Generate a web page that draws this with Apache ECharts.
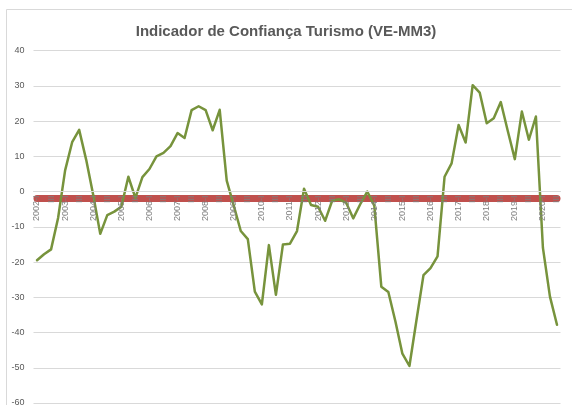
<!DOCTYPE html>
<html>
<head>
<meta charset="utf-8">
<title>Indicador de Confiança Turismo</title>
<script src="https://cdn.jsdelivr.net/npm/echarts@6/dist/echarts.min.js"></script>
<style>
	html, body { margin: 0; padding: 0; background: #fff; }
	#chart_turismo { width: 572px; height: 405px; }
</style>
</head>
<body>
<div id="chart_turismo"></div>
<script>
// anos e trimestres do eixo horizontal
var anos = ['2002', '2003', '2004', '2005', '2006', '2007', '2008', '2009', '2010',
	'2011', '2012', '2013', '2014', '2015', '2016', '2017', '2018', '2019', '2020'];
var trimestres = ['I', 'II', 'III', 'IV'];

// indicador (VE-MM3), 2002-I ate 2020-III
var indicador = [
	-19.5, -17.8, -16.4, -7.5,
	6.0, 14.0, 17.5, 9.0,
	-1.0, -12.0, -6.7, -5.7,
	-4.3, 4.2, -1.8, 4.1,
	6.4, 10.0, 11.0, 12.9,
	16.6, 15.2, 23.1, 24.2,
	23.1, 17.4, 23.2, 3.1,
	-4.0, -11.2, -13.5, -28.4,
	-32.0, -15.2, -29.3, -15.0,
	-14.8, -11.2, 0.8, -3.8,
	-4.3, -8.3, -2.6, -2.2,
	-3.2, -7.6, -3.6, 0.0,
	-4.0, -27.0, -28.5, -36.8,
	-46.0, -49.5, -36.5, -23.7,
	-21.7, -18.4, 4.2, 8.0,
	18.9, 13.9, 30.2, 28.1,
	19.4, 20.8, 25.4, 17.2,
	9.2, 22.7, 14.7, 21.3,
	-16.0, -29.8, -37.8
];

// linha da media (vermelha)
var media = -1.9;

// escala do eixo vertical
var yMin = -60;
var yMax = 40;
var yStep = 10;

var categorias = [];
for (var a = 0; a < anos.length; a++) {
	for (var t = 0; t < trimestres.length; t++) {
		if (categorias.length >= indicador.length) break;
		categorias.push(t == 0 ? anos[a] + '-' + trimestres[t] : trimestres[t]);
	}
}

// area do grafico
var gridTop = 50.6;
var gridBottom = 2;
var gridHeight = 405 - gridTop - gridBottom;
// eixo das categorias fica no zero
var zeroOffset = -gridHeight * (0 - yMin) / (yMax - yMin);

var chart = echarts.init(document.getElementById('chart_turismo'), null, { renderer: 'canvas' });

chart.setOption({
	animation : false,
	backgroundColor : '#ffffff',
	textStyle : { fontFamily : 'Liberation Sans, Arial, sans-serif' },
	graphic : [{
		type : 'rect',
		z : -10,
		shape : { x : 6.5, y : 9.5, width : 620, height : 500 },
		style : { fill : 'none', stroke : '#d9d9d9', lineWidth : 1 }
	}],
	title : {
		text : 'Indicador de Confiança Turismo (VE-MM3)',
		left : 'center',
		top : 19,
		textStyle : {
			fontSize : 15,
			fontWeight : 'bold',
			color : '#595959',
			fontFamily : 'Liberation Sans, Arial, sans-serif'
		}
	},
	grid : {
		left : 33.5,
		right : 11.5,
		top : gridTop,
		bottom : gridBottom,
		containLabel : false,
		outerBoundsMode : 'none'
	},
	xAxis : {
		type : 'category',
		data : categorias,
		boundaryGap : true,
		z : 10,
		offset : zeroOffset,
		axisLine : { show : true, onZero : false, lineStyle : { color : '#d9d9d9' } },
		axisTick : { show : false },
		axisLabel : {
			interval : 1,
			rotate : 90,
			margin : 4,
			fontSize : 9,
			color : '#7f7f7f'
		},
		splitLine : { show : false }
	},
	yAxis : {
		type : 'value',
		min : yMin,
		max : yMax,
		interval : yStep,
		axisLine : { show : false },
		axisTick : { show : false },
		axisLabel : { fontSize : 9, color : '#595959', margin : 9 },
		splitLine : { lineStyle : { color : '#d9d9d9', width : 1 } }
	},
	series : [{
		name : 'Média',
		type : 'line',
		z : 2,
		data : [],
		markLine : {
			z : 2,
			silent : true,
			symbol : 'none',
			label : { show : false },
			lineStyle : { color : '#c0504d', width : 7, type : 'solid', cap : 'round' },
			data : [[
				{ coord : [categorias[0], media] },
				{ coord : [categorias[categorias.length - 1], media] }
			]]
		}
	}, {
		name : 'Indicador',
		type : 'line',
		z : 3,
		data : indicador,
		showSymbol : false,
		symbol : 'none',
		lineStyle : { color : '#77933c', width : 2.5, cap : 'round', join : 'round' },
		itemStyle : { color : '#77933c' }
	}]
});
</script>
</body>
</html>
